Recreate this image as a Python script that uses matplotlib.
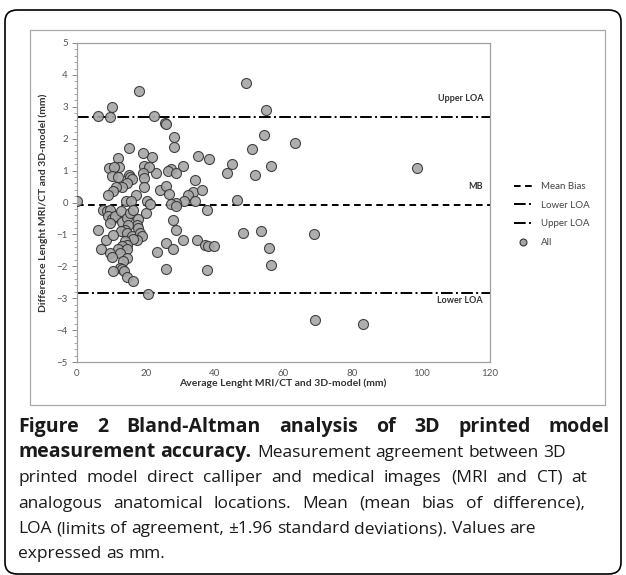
import matplotlib.pyplot as plt
from matplotlib.patches import FancyBboxPatch, Rectangle
from matplotlib.lines import Line2D
from matplotlib.ticker import MultipleLocator

# data (mm)
avg_len = [0.1, 6.0, 9.6, 10.2, 18.1, 22.3, 25.5, 25.8, 28.3, 28.1, 15.2, 49.0, 54.8, 54.3,
           63.2, 50.8, 56.3, 51.7, 45.1, 43.5, 46.4, 35.1, 38.3, 30.8, 27.2, 26.3, 28.9, 22.9,
           21.9, 19.3, 19.5, 20.9, 19.1, 19.5, 19.6, 12.0, 12.2, 9.3, 10.8, 10.3, 12.0, 15.0,
           15.5, 16.1, 14.4, 13.2, 11.4, 10.6, 9.1, 17.2, 14.2, 15.6, 20.4, 24.1, 25.9, 26.6,
           34.2, 33.6, 36.2, 32.2, 31.2, 34.4, 28.7, 27.4, 28.7, 37.7, 7.6, 8.6, 9.6, 9.1,
           10.1, 11.0, 9.6, 12.8, 13.0, 14.4, 15.4, 16.2, 17.8, 17.3, 17.8, 14.9, 13.9, 12.7,
           14.4, 15.9, 18.3, 18.8, 17.5, 16.2, 13.9, 14.4, 13.0, 12.0, 14.4, 12.5, 14.4, 13.5,
           12.5, 13.0, 13.7, 10.6, 14.4, 16.4, 6.2, 8.3, 10.6, 6.9, 9.6, 10.1, 20.0, 21.2,
           23.2, 25.9, 25.9, 28.0, 28.8, 28.0, 30.7, 34.8, 37.2, 38.1, 39.8, 37.9, 48.3, 53.5,
           55.9, 56.4, 20.7, 68.9, 69.1, 83.0, 98.9]
diff_len = [0.05, 2.70, 2.68, 3.00, 3.48, 2.70, 2.48, 2.45, 2.04, 1.75, 1.72, 3.74, 2.90, 2.12,
            1.88, 1.68, 1.13, 0.86, 1.20, 0.92, 0.08, 1.45, 1.36, 1.13, 1.05, 0.98, 0.92, 0.92,
            1.42, 1.55, 1.15, 1.10, 0.92, 0.76, 0.48, 1.40, 1.12, 1.07, 1.10, 0.82, 0.79, 0.85,
            0.80, 0.75, 0.62, 0.48, 0.50, 0.35, 0.25, 0.25, 0.05, 0.05, 0.05, 0.38, 0.53, 0.27,
            0.70, 0.33, 0.38, 0.25, 0.04, 0.04, 0.00, -0.06, -0.12, -0.22, -0.22, -0.27, -0.22, -0.43,
            -0.53, -0.43, -0.64, -0.27, -0.60, -0.48, -0.32, -0.22, -0.53, -0.69, -0.79, -0.69, -0.85, -0.90,
            -0.96, -1.06, -0.96, -1.06, -1.16, -1.14, -1.21, -1.32, -1.37, -1.47, -1.47, -1.58, -1.73, -1.84,
            -2.05, -2.10, -2.16, -2.16, -2.34, -2.45, -0.85, -1.19, -1.02, -1.47, -1.58, -1.70, -0.32, -0.06,
            -1.56, -1.26, -2.07, -0.55, -0.85, -1.47, -1.16, -1.17, -1.32, -1.37, -1.35, -2.12, -0.95, -0.90,
            -1.42, -1.96, -2.86, -1.00, -3.67, -3.80, 1.08]

mean_bias = -0.08
upper_loa = 2.67
lower_loa = -2.83

x_ticks = [0, 20, 40, 60, 80, 100, 120]
y_ticks = [-5, -4, -3, -2, -1, 0, 1, 2, 3, 4, 5]

x_label = "Average Lenght MRI/CT and 3D-model (mm)"
y_label = "Difference Lenght MRI/CT and 3D-model (mm)"

caption_title = "Figure 2 Bland-Altman analysis of 3D printed model"
caption_bold = "measurement accuracy."
caption_lines = [
    "Measurement agreement between 3D",
    "printed model direct calliper and medical images (MRI and CT) at",
    "analogous anatomical locations. Mean (mean bias of difference),",
    "LOA (limits of agreement, \u00b11.96 standard deviations). Values are",
    "expressed as mm.",
]

W, H = 626, 575
fig = plt.figure(figsize=(W / 100, H / 100), dpi=100)


def fx(px):
    return px / W


def fy(py):
    return 1 - py / H


# outer rounded border and inner chart frame
fig.patches.append(FancyBboxPatch((fx(5), fy(574)), fx(621) - fx(5), fy(10) - fy(574),
                                  boxstyle="round,pad=0,rounding_size=0.02",
                                  transform=fig.transFigure, fill=False,
                                  edgecolor='black', linewidth=1.2))
fig.patches.append(Rectangle((fx(30), fy(405)), fx(605) - fx(30), fy(30) - fy(405),
                             transform=fig.transFigure, fill=False,
                             edgecolor='#a8a8a8', linewidth=0.9))

ax = fig.add_axes([fx(77), fy(362), fx(490) - fx(77), fy(43) - fy(362)])

mb_style = (0, (3.4, 2.3))
loa_style = (0, (6, 1.7, 1, 1.7))

ax.axhline(mean_bias, color='black', ls=mb_style, lw=1.4, zorder=2)
ax.axhline(upper_loa, color='black', ls=loa_style, lw=1.4, zorder=2)
ax.axhline(lower_loa, color='black', ls=loa_style, lw=1.4, zorder=2)
ax.scatter(avg_len, diff_len, s=52, facecolor='#a6a6a6', edgecolor='#333333',
           linewidth=0.8, alpha=0.9, zorder=3)

ax.set_xlim(0, 120)
ax.set_ylim(-5, 5)
ax.set_xticks(x_ticks)
ax.set_yticks(y_ticks)
ax.yaxis.set_minor_locator(MultipleLocator(0.2))
ax.tick_params(axis='x', length=0, pad=5, labelsize=7, labelcolor='#555555')
ax.tick_params(axis='y', which='major', length=3.5, width=0.7, color='#888888',
               pad=3, labelsize=7, labelcolor='#555555')
ax.tick_params(axis='y', which='minor', length=2, width=0.6, color='#999999')
for lab in ax.get_xticklabels() + ax.get_yticklabels():
    lab.set_family('Lato')
for sp in ax.spines.values():
    sp.set_color('#a0a0a0')
    sp.set_linewidth(0.9)

ax.text(118, 3.26, "Upper LOA", ha='right', va='center', fontsize=6.5,
        fontweight='bold', family='Lato', color='#333333')
ax.text(118, 0.5, "MB", ha='right', va='center', fontsize=6.5,
        fontweight='bold', family='Lato', color='#333333')
ax.text(118, -3.07, "Lower LOA", ha='right', va='center', fontsize=6.5,
        fontweight='bold', family='Lato', color='#333333')

fig.text(fx(283), fy(383), x_label, ha='center', va='center', fontsize=7.5,
         fontweight='bold', family='Lato', color='#333333')
fig.text(fx(43), fy(203), y_label, ha='center', va='center', rotation=90,
         fontsize=7.5, fontweight='bold', family='Lato', color='#333333')

handles = [
    Line2D([], [], color='black', ls=mb_style, lw=1.4),
    Line2D([], [], color='black', ls=loa_style, lw=1.4),
    Line2D([], [], color='black', ls=loa_style, lw=1.4),
    Line2D([], [], ls='none', marker='o', markersize=5, markerfacecolor='#a6a6a6',
           markeredgecolor='#333333', markeredgewidth=0.8),
]
leg = fig.legend(handles, ["Mean Bias", "Lower LOA", "Upper LOA", "All"],
                 loc='upper left', bbox_to_anchor=(fx(514), fy(182)), frameon=False,
                 prop={'family': 'Lato', 'size': 7}, handlelength=1.8,
                 handletextpad=1.0, labelspacing=1.0, borderpad=0, borderaxespad=0)
for t in leg.get_texts():
    t.set_color('#444444')

# caption
cap_family = 'Open Sans'
cap_color = '#1a1a1a'
bold_size = 14
reg_size = 12.5
left_px = 18
baselines = [432, 457, 482, 508, 533, 558]
renderer = fig.canvas.get_renderer()


def place_words(words, x0, x1, base, size, weight):
    objs = [fig.text(0, fy(base), w, fontsize=size, fontweight=weight,
                     family=cap_family, color=cap_color, va='baseline') for w in words]
    widths = [o.get_window_extent(renderer).width for o in objs]
    space = size * 100 / 72 * 0.26
    g = space
    if x1 is not None and len(words) > 1:
        g = max(space, (x1 - x0 - sum(widths)) / (len(words) - 1))
    x = x0
    for o, w in zip(objs, widths):
        o.set_x(fx(x))
        x += w + g
    return x - g


# first line is justified across the full width
place_words(caption_title.split(), left_px, 610, baselines[0], bold_size, 'bold')
bold_end = place_words(caption_bold.split(), left_px, None, baselines[1], bold_size, 'bold')

line_ends = [None, 587, 585, None, None]
line_starts = [bold_end + 6, left_px, left_px, left_px, left_px]
for line, x0, x1, base in zip(caption_lines, line_starts, line_ends, baselines[1:]):
    place_words(line.split(' '), x0, x1, base, reg_size, 'normal')

fig.savefig('out.png', dpi=100)
